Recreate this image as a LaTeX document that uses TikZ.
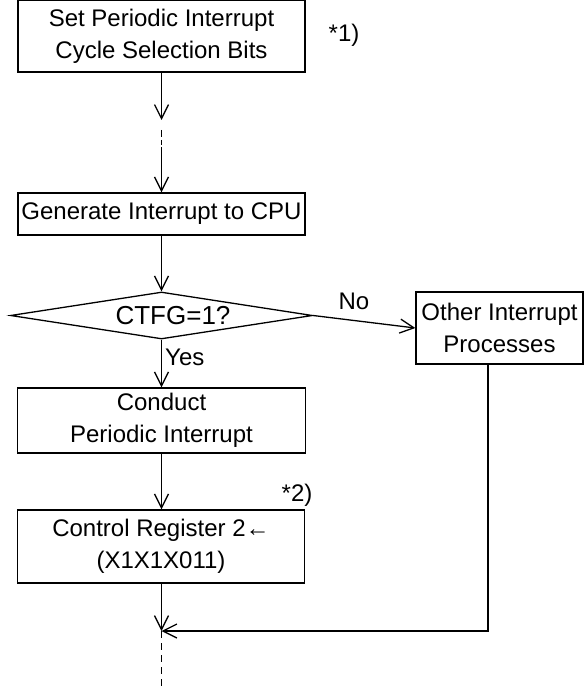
\documentclass[tikz,border=0pt]{standalone}
\usepackage{fontspec}
\setmainfont{Liberation Sans}
\usetikzlibrary{arrows.meta,shapes.geometric}
\begin{document}
\begin{tikzpicture}[x=1pt,y=-1pt,
  every node/.style={font=\fontsize{24}{32}\selectfont},
  box/.style={draw,line width=1.3pt,inner sep=0pt,align=center},
  dia/.style={draw,line width=1.3pt,diamond,inner sep=0pt,aspect=6.4},
  conn/.style={line width=1.3pt},
  arr/.style={conn,-{Straight Barb[length=14pt,width=14pt,line width=1.3pt]}},
  lbl/.style={inner sep=0pt}]
\useasboundingbox (0,0) rectangle (584,687);
\node[box,minimum width=287pt,minimum height=72pt] (b1) at (161.5,36) {Set Periodic Interrupt\\Cycle Selection Bits};
\node[lbl] (n1) at (344,35) {*1)};
\node[box,minimum width=287pt,minimum height=42pt] (b2) at (161.5,214) {Generate Interrupt to CPU};
\node[dia,minimum width=302pt,minimum height=47pt] (d) at (161.5,315.5) {};
\node[lbl,font=\fontsize{26}{32}\selectfont] (dt) at (173,315.5) {CTFG=1?};
\node[box,minimum width=167pt,minimum height=72pt] (o) at (499.5,328) {Other Interrupt\\Processes};
\node[box,minimum width=288pt,minimum height=65pt] (c) at (161.5,420.5) {Conduct\\Periodic Interrupt};
\node[lbl] (n2) at (297,495) {*2)};
\node[box,minimum width=287pt,minimum height=73pt] (r) at (161,546.5) {Control Register 2←\\(X1X1X011)};
\node[lbl,anchor=west] (yes) at (165,357) {Yes};
\node[lbl] (no) at (354,301) {No};
\coordinate (t1) at (161.5,120);
\coordinate (g1) at (161.5,130);
\coordinate (g2) at (161.5,137);
\coordinate (g3) at (161.5,140);
\coordinate (g4) at (161.5,145);
\coordinate (s2) at (161.5,147);
\coordinate (j) at (161.5,631);
\coordinate (oc) at (488,631);
\coordinate (e) at (161.5,687);
\draw[arr] (b1.south) -- (t1);
\draw[conn] (g1) -- (g2);
\draw[conn] (g3) -- (g4);
\draw[arr] (s2) -- (b2.north);
\draw[arr] (b2.south) -- (d.north);
\draw[arr] (d.south) -- (c.north);
\draw[arr] (d.east) -- (o.west);
\draw[arr] (c.south) -- (r.north -| c.south);
\draw[arr] (r.south -| c.south) -- (j);
\draw[arr] (o.south -| oc) -- (oc) -- (j);
\draw[conn,dash pattern=on 7pt off 5pt] (j) -- (e);
\end{tikzpicture}
\end{document}
